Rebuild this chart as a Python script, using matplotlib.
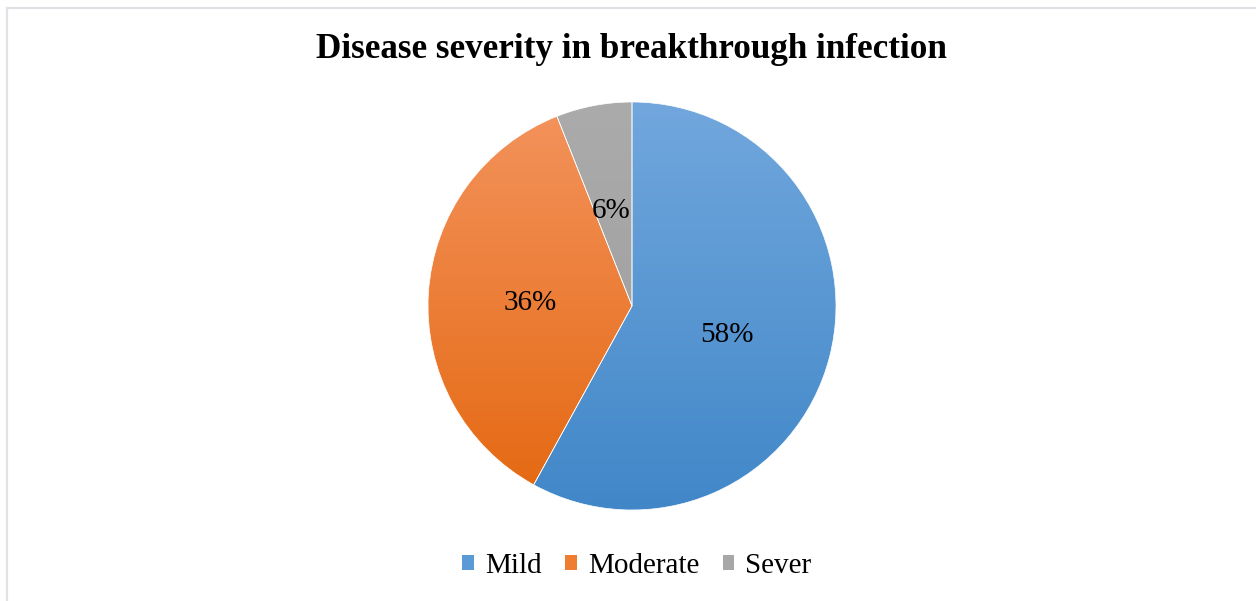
import numpy as np
import matplotlib.pyplot as plt
from matplotlib.colors import to_rgb
from matplotlib.patches import Rectangle, Patch

labels = ['Mild', 'Moderate', 'Sever']
values = [58, 36, 6]
top_colors = ['#71a7dd', '#f3925b', '#ababab']
bottom_colors = ['#4187c8', '#e56a14', '#a3a3a3']
legend_colors = ['#5a9ad6', '#ee7d32', '#a7a7a7']

plt.rcParams['font.family'] = 'Liberation Serif'

fig = plt.figure(figsize=(12.56, 6.01), dpi=100)

# light frame of the chart area (cut at right and bottom)
fig.patches.append(Rectangle((6.5 / 1256, -0.1), 1.2, (601 - 7.5) / 601 + 0.1,
                             transform=fig.transFigure, fill=False,
                             edgecolor='#dfe2e6', lw=1.6, zorder=0))

cx, cy, r = 632, 306, 204
ax = fig.add_axes([(cx - r) / 1256, (601 - cy - r) / 601, 2 * r / 1256, 2 * r / 601])

wedges, _, autotexts = ax.pie(values, startangle=90, counterclock=False,
                              autopct='%d%%', pctdistance=0.49,
                              labels=None, radius=1,
                              textprops=dict(fontsize=21, color='black'))
ax.set_aspect('equal')
ax.axis('off')

# vertical gradient fill for each wedge
for w, c0, c1 in zip(wedges, top_colors, bottom_colors):
    ext = w.get_path().get_extents(w.get_patch_transform())
    t = np.linspace(0, 1, 256)[:, None, None]
    a = np.array(to_rgb(c0))
    b = np.array(to_rgb(c1))
    img = a * (1 - t) + b * t
    img = np.repeat(img, 2, axis=1)
    im = ax.imshow(img, extent=[ext.x0, ext.x1, ext.y0, ext.y1],
                   origin='upper', aspect='auto', zorder=1)
    im.set_clip_path(w)
    w.set_facecolor('none')
    w.set_edgecolor('white')
    w.set_linewidth(0.5)
    w.set_zorder(2)

for t in autotexts:
    x, y = t.get_position()
    t.set_position((x - 0.01, y - 0.018))
    t.set_zorder(3)

ax.set_xlim(-1, 1)
ax.set_ylim(-1, 1)

fig.text(631 / 1256, 1 - 50 / 601, 'Disease severity in breakthrough infection',
         ha='center', va='center', fontsize=25.3, fontweight='bold')

handles = [Patch(facecolor=c, edgecolor='none') for c in legend_colors]
fig.legend(handles, labels, loc='center', bbox_to_anchor=(637 / 1256, 1 - 566 / 601),
           ncol=3, frameon=False, fontsize=21, handlelength=0.4, handleheight=0.4,
           handletextpad=0.38, columnspacing=0.8)

fig.savefig('out.png', dpi=100)
